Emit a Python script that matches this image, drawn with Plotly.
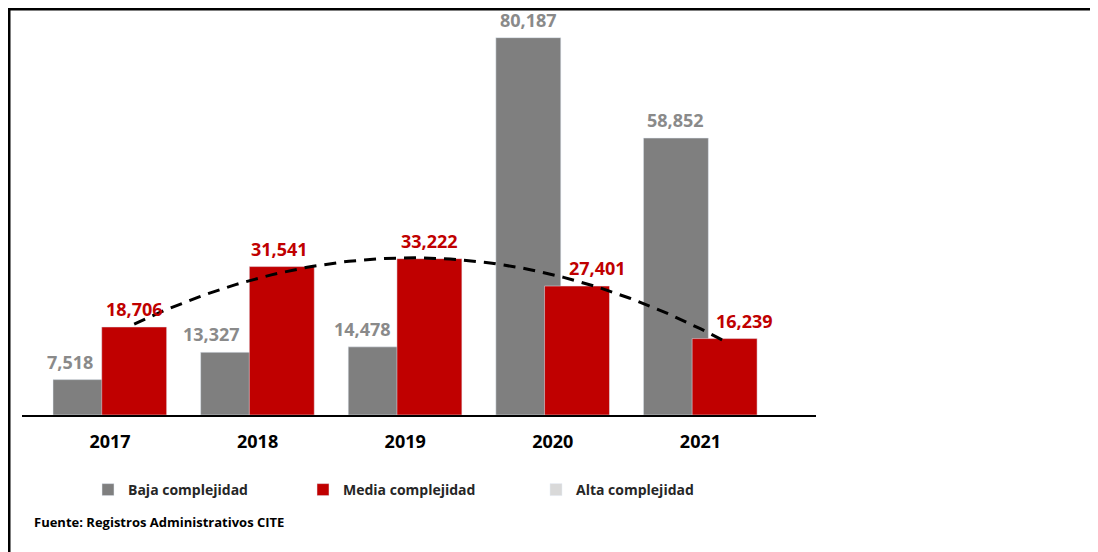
import numpy as np
import plotly.graph_objects as go

years = [2017, 2018, 2019, 2020, 2021]
baja = [7518, 13327, 14478, 80187, 58852]
media = [18706, 31541, 33222, 27401, 16239]
alta = [None, None, None, None, None]
year_labels = ["2017", "2018", "2019", "2020", "2021"]

GRAY = "#7f7f7f"
GRAY_LBL = "#8a8a8a"
RED = "#c00000"
LIGHT = "#d9d9d9"
FONT = "Open Sans"

W, H = 1090, 544
PL, PR, PT, PB = 14, 282, 7, 137
PW, PH = W - PL - PR, H - PT - PB

BAR_W = 0.44
GRAY_OFF = -0.386
RED_OFF = -0.056

fig = go.Figure()
fig.add_trace(go.Bar(x=years, y=baja, name="Baja complejidad", marker_color=GRAY,
                     width=BAR_W, offset=GRAY_OFF, legend="legend"))
fig.add_trace(go.Bar(x=years, y=media, name="Media complejidad", marker_color=RED,
                     width=BAR_W, offset=RED_OFF, legend="legend2"))
fig.add_trace(go.Bar(x=years, y=alta, name="Alta complejidad", marker_color=LIGHT,
                     width=BAR_W, offset=RED_OFF, legend="legend3"))

# polynomial (order 2) trendline through the red series, as in the source chart
red_center = RED_OFF + BAR_W / 2
coef = np.polyfit(years, media, 2)
xs = np.linspace(years[0], years[-1], 100)
fig.add_trace(go.Scatter(x=xs + red_center, y=np.polyval(coef, xs), mode="lines",
                         line=dict(color="black", width=3, dash="12px,8px"),
                         showlegend=False, hoverinfo="skip"))

gray_center = GRAY_OFF + BAR_W / 2
gray_shift = [-15, -22, -18, 0, 0]
red_shift = [0, -2, 0, 20, 20]
for yr, v, s in zip(years, baja, gray_shift):
    fig.add_annotation(x=yr + gray_center, y=v, text=f"{v:,}", showarrow=False,
                       yanchor="bottom", xshift=s, yshift=4,
                       font=dict(family=FONT, size=18, color=GRAY_LBL, weight=700))
for yr, v, s in zip(years, media, red_shift):
    fig.add_annotation(x=yr + red_center, y=v, text=f"{v:,}", showarrow=False,
                       yanchor="bottom", xshift=s, yshift=4,
                       font=dict(family=FONT, size=18, color=RED, weight=700))

fig.add_annotation(x=(24 - PL) / PW, y=(PT + PH - 514) / PH, xref="paper", yref="paper",
                   text="Fuente: Registros Administrativos CITE", showarrow=False,
                   xanchor="left", yanchor="middle",
                   font=dict(family=FONT, size=13, color="black", weight=700))

# outer frame (left and top edges visible)
fig.add_shape(type="rect", xref="paper", yref="paper",
              x0=(1 - PL) / PW, x1=1.6, y0=-0.6, y1=(PT + PH - 1) / PH,
              line=dict(color="black", width=3), fillcolor="rgba(0,0,0,0)")

leg_common = dict(orientation="h", xref="container", yref="container",
                  yanchor="middle", xanchor="left", y=1 - 482 / H,
                  bgcolor="rgba(0,0,0,0)",
                  font=dict(family=FONT, size=14, color="#262626", weight=700))

fig.update_layout(
    width=W, height=H,
    margin=dict(l=PL, r=PR, t=PT, b=PB),
    paper_bgcolor="white", plot_bgcolor="white",
    barmode="overlay",
    showlegend=True,
    legend=dict(x=80 / W, **leg_common),
    legend2=dict(x=295 / W, **leg_common),
    legend3=dict(x=528 / W, **leg_common),
    xaxis=dict(range=[2016.404, 2021.783], tickvals=years, ticktext=year_labels,
               showgrid=False, zeroline=False, showline=True, linecolor="black",
               linewidth=2, ticks="", ticklabelstandoff=9,
               tickfont=dict(family=FONT, size=18, color="black", weight=700)),
    yaxis=dict(range=[0, 85000], visible=False, showgrid=False),
)

fig.write_html("out.html")
